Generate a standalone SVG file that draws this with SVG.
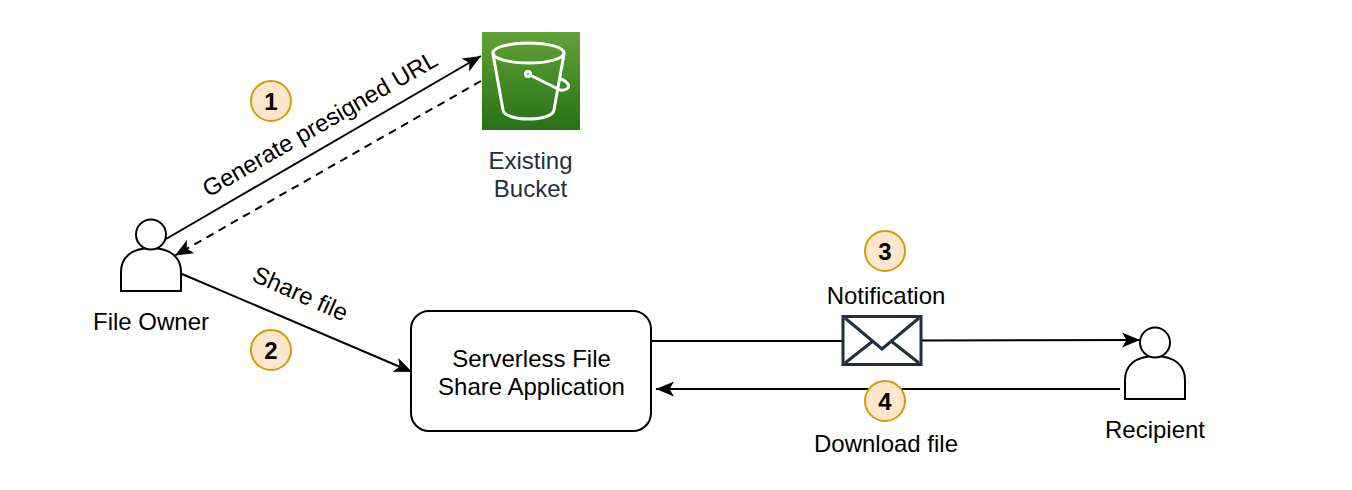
<svg xmlns="http://www.w3.org/2000/svg" width="1352" height="490" viewBox="0 0 1352 490">
<style>
text{font-family:"Liberation Sans",Arial,sans-serif;font-size:24px;fill:#000;text-anchor:middle}
.edge{fill:none;stroke:#000;stroke-width:2}
.shape{fill:#fff;stroke:#000;stroke-width:2}
.badge circle{fill:#ffe6cc;stroke:#d79b00;stroke-width:2}
.badge text{font-weight:bold}
.white{fill:none;stroke:#fff;stroke-width:3;stroke-linejoin:round;stroke-linecap:round}
</style>
<defs>
<linearGradient id="g" x1="0" y1="1" x2="0" y2="0"><stop offset="0" stop-color="#277116"/><stop offset="1" stop-color="#60a337"/></linearGradient>
<marker id="arrow" markerUnits="userSpaceOnUse" markerWidth="20" markerHeight="16" refX="18" refY="7.500" orient="auto"><path d="M0 0L18 7.500L0 15L4.500 7.500Z" fill="#000"/></marker>
</defs>
<g id="connectors">
<path class="edge" d="M166 239L481 56" marker-end="url(#arrow)"/>
<path class="edge" stroke-dasharray="8 6" d="M481 81L175 255.500" marker-end="url(#arrow)"/>
<path class="edge" d="M182 274L412 372" marker-end="url(#arrow)"/>
<path class="edge" d="M652 341H842"/>
<path class="edge" d="M922 340.500L1140 340" marker-end="url(#arrow)"/>
<path class="edge" d="M1120 389H656" marker-end="url(#arrow)"/>
</g>
<g id="bucket">
<rect x="482" y="32" width="98" height="98" fill="url(#g)"/>
<ellipse class="white" cx="528.500" cy="53" rx="35.500" ry="10"/>
<path class="white" d="M493 54L503 110C504 116 516 119 528.500 119C541 119 553 116 554 110L564 54"/>
<circle class="white" cx="528" cy="74" r="2.500"/>
<path class="white" d="M530 75L560 90C567 91 570 87 568 84C566 81 563 80 561 79"/>
<text x="530.500" y="168.500" style="fill:#232f3e">Existing</text>
<text x="530.500" y="196.500" style="fill:#232f3e">Bucket</text>
</g>
<g id="file-owner">
<path class="shape" d="M121 291V272C121 258 131 248 151 248C171 248 181 258 181 272V291Z"/>
<circle class="shape" cx="151" cy="234.500" r="15"/>
<text x="151" y="329.500">File Owner</text>
</g>
<g id="app">
<rect class="shape" x="411" y="311" width="240" height="120" rx="18"/>
<text x="531.500" y="366.500">Serverless File</text>
<text x="531.500" y="394.500">Share Application</text>
</g>
<g id="notification">
<rect x="843" y="316.500" width="78" height="48" fill="#fff" stroke="#232f3e" stroke-width="3"/>
<path d="M845 318L882 349L919 318M845 363L873 341M919 363L891 341" fill="none" stroke="#232f3e" stroke-width="3"/>
<text x="886" y="303.500">Notification</text>
</g>
<g id="recipient">
<path class="shape" d="M1125 399V380C1125 366 1135 356 1155 356C1175 356 1185 366 1185 380V399Z"/>
<circle class="shape" cx="1155" cy="342.500" r="15"/>
<text x="1155" y="437.500">Recipient</text>
</g>
<g id="labels">
<text transform="translate(324 131) rotate(-30)">Generate presigned URL</text>
<text transform="translate(297 301) rotate(24)">Share file</text>
<text x="886" y="451.500">Download file</text>
</g>
<g id="badge-1" class="badge"><circle cx="271" cy="101" r="20"/><text x="271" y="109.500">1</text></g>
<g id="badge-2" class="badge"><circle cx="271" cy="350" r="20"/><text x="271" y="358.500">2</text></g>
<g id="badge-3" class="badge"><circle cx="885" cy="251" r="20"/><text x="885" y="259.500">3</text></g>
<g id="badge-4" class="badge"><circle cx="885" cy="401" r="20"/><text x="885" y="409.500">4</text></g>
</svg>
